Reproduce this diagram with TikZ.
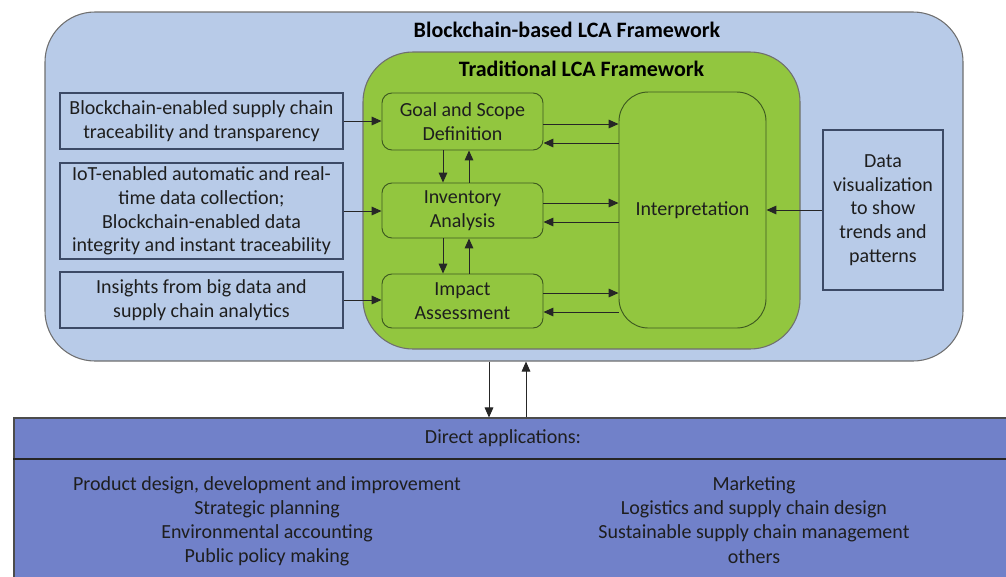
\documentclass[tikz,border=0pt]{standalone}
\usepackage{fontspec}
\setmainfont{Carlito}
\usetikzlibrary{arrows.meta,calc}
\definecolor{outerblue}{HTML}{B8CBE8}
\definecolor{lcagreen}{HTML}{92C63F}
\definecolor{appblue}{HTML}{7181C9}
\definecolor{txt}{HTML}{1E1E1E}
\definecolor{bordergray}{HTML}{6F6F6F}
\definecolor{boxline}{HTML}{3C4A66}
\definecolor{greenline}{HTML}{3E5A20}
\tikzset{
  txtfont/.style={font=\fontsize{15}{17.7}\selectfont, text=txt, align=center},
  outerbox/.style={draw=bordergray, fill=outerblue, rounded corners=37.5pt, line width=0.8pt},
  greenbox/.style={draw=bordergray, fill=lcagreen, rounded corners=37.5pt, line width=0.8pt},
  inbox/.style={txtfont, draw=boxline, fill=outerblue, line width=0.8pt, inner sep=0pt},
  stagebox/.style={txtfont, draw=greenline, fill=lcagreen, rounded corners=7.5pt, line width=0.7pt, inner sep=0pt},
  titletext/.style={font=\fontsize{16.5}{19}\selectfont\bfseries, text=black},
  arr/.style={-{Triangle[length=7.5pt,width=6.5pt]}, line width=0.75pt, draw=black!85},
  apptext/.style={font=\fontsize{15}{18}\selectfont, text=txt},
}
\begin{document}
\begin{tikzpicture}[x=0.75pt,y=-0.75pt]
\useasboundingbox (0,0) rectangle (1006,576);
\clip (0,0) rectangle (1006,576);
% outer framework
\node[outerbox, minimum width=688.5pt, minimum height=261.75pt] (outer) at (504,186.5) {};
\node[titletext] (outertitle) at (567,30) {Blockchain-based LCA Framework};
% green framework
\node[greenbox, minimum width=327.75pt, minimum height=222.75pt] (green) at (581.5,200.5) {};
\node[titletext] (greentitle) at (581.5,69) {Traditional LCA Framework};
% left input boxes
\node[inbox, minimum width=212.25pt, minimum height=42pt] (b1) at (201.5,121) {Blockchain-enabled supply chain\\traceability and transparency};
\node[inbox, minimum width=212.25pt, minimum height=72pt] (b2) at (201.5,211) {IoT-enabled automatic and real-\\time data collection;\\Blockchain-enabled data\\integrity and instant traceability};
\node[inbox, minimum width=212.25pt, minimum height=42pt] (b3) at (201.5,300) {Insights from big data and\\supply chain analytics};
% stages
\node[stagebox, minimum width=120.75pt, minimum height=42.75pt] (goal) at (462.5,121.5) {Goal and Scope\\Definition};
\node[stagebox, minimum width=120.75pt, minimum height=41.25pt] (inv) at (462.5,210.5) {Inventory\\Analysis};
\node[stagebox, minimum width=120.75pt, minimum height=40.5pt] (imp) at (462.5,301) {Impact\\Assessment};
\node[stagebox, rounded corners=22pt, minimum width=110.25pt, minimum height=177pt] (interp) at (692.5,210) {Interpretation};
% data visualization
\node[inbox, minimum width=90pt, minimum height=120pt] (dv) at (883,210) {Data\\visualization\\to show\\trends and\\patterns};
% inputs to stages
\draw[arr] (b1.east) -- (b1.east -| goal.west);
\draw[arr] (b2.east) -- (b2.east -| inv.west);
\draw[arr] (b3.east) -- (b3.east -| imp.west);
% stages <-> interpretation
\coordinate (g1) at ($(goal.east)+(0,2.5)$);
\coordinate (g2) at ($(goal.east)+(0,21.5)$);
\coordinate (i1) at ($(inv.east)+(0,-7.5)$);
\coordinate (i2) at ($(inv.east)+(0,11.5)$);
\coordinate (m1) at ($(imp.east)+(0,-8)$);
\coordinate (m2) at ($(imp.east)+(0,11)$);
\draw[arr] (g1) -- (g1 -| interp.west);
\draw[arr] (g2 -| interp.west) -- (g2);
\draw[arr] (i1) -- (i1 -| interp.west);
\draw[arr] (i2 -| interp.west) -- (i2);
\draw[arr] (m1) -- (m1 -| interp.west);
\draw[arr] (m2 -| interp.west) -- (m2);
% vertical stage arrows
\coordinate (vd) at (443,0);
\coordinate (vu) at (469,0);
\draw[arr] (vd |- goal.south) -- (vd |- inv.north);
\draw[arr] (vu |- inv.north) -- (vu |- goal.south);
\draw[arr] (vd |- inv.south) -- (vd |- imp.north);
\draw[arr] (vu |- imp.north) -- (vu |- inv.south);
% data visualization to interpretation
\draw[arr] (dv.west) -- (dv.west -| interp.east);
% bottom applications box
\node[draw=black!70, fill=appblue, line width=0.8pt, minimum width=747pt, minimum height=121.5pt, inner sep=0pt] (apps) at (512,499) {};
\coordinate (sep) at (0,459);
\draw[line width=1pt, draw=black!85] (apps.west |- sep) -- (apps.east |- sep);
\node[apptext] (appstitle) at (503,438) {Direct applications:};
\node[apptext] (l1) at (267,485) {Product design, development and improvement};
\node[apptext] (l2) at (267,509) {Strategic planning};
\node[apptext] (l3) at (267,533) {Environmental accounting};
\node[apptext] (l4) at (267,557) {Public policy making};
\node[apptext] (r1) at (754,485) {Marketing};
\node[apptext] (r2) at (754,509) {Logistics and supply chain design};
\node[apptext] (r3) at (754,533) {Sustainable supply chain management};
\node[apptext] (r4) at (754,557) {others};
% arrows between framework and applications
\coordinate (ad) at (489,0);
\coordinate (au) at (526,0);
\draw[arr] (ad |- outer.south) -- (ad |- apps.north);
\draw[arr] (au |- apps.north) -- (au |- outer.south);
\end{tikzpicture}
\end{document}
